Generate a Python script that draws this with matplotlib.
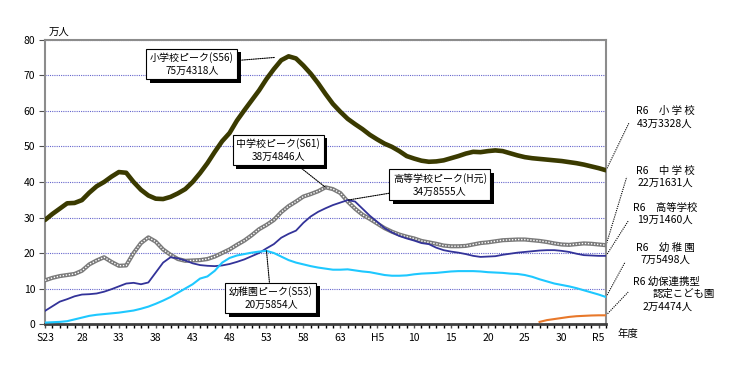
import matplotlib
matplotlib.use('Agg')
import matplotlib.pyplot as plt
import matplotlib.patheffects as pe

plt.rcParams['font.family'] = ['Noto Sans CJK JP', 'DejaVu Sans']

# 年度 (S23 = 1948 ... R6 = 2024), 単位: 万人
years = list(range(1948, 2025))

elementary = [29.3, 31.0, 32.5, 34.0, 34.1, 34.9, 37.0, 38.8, 40.0, 41.5,
              42.8, 42.6, 40.0, 37.8, 36.2, 35.3, 35.2, 35.8, 36.8, 38.0,
              40.0, 42.5, 45.3, 48.5, 51.5, 53.8, 57.3, 60.2, 63.0, 65.8,
              69.0, 71.8, 74.3, 75.4, 74.8, 72.8, 70.5, 67.8, 64.8, 62.0,
              59.8, 57.8, 56.3, 54.9, 53.3, 52.0, 50.8, 49.9, 48.7, 47.3,
              46.6, 46.0, 45.7, 45.8, 46.1, 46.7, 47.3, 48.0, 48.5, 48.4,
              48.7, 48.9, 48.7, 48.1, 47.5, 47.0, 46.7, 46.5, 46.3, 46.1,
              45.9, 45.6, 45.3, 44.9, 44.4, 43.9, 43.3]

junior = [12.3, 13.0, 13.5, 13.8, 14.1, 15.0, 16.8, 17.9, 18.8, 17.5,
          16.4, 16.5, 20.0, 22.8, 24.4, 23.2, 21.0, 19.5, 18.3, 17.8,
          17.9, 18.0, 18.3, 19.0, 20.0, 21.0, 22.3, 23.5, 25.0, 26.7,
          27.9, 29.3, 31.5, 33.2, 34.5, 35.9, 36.6, 37.4, 38.5, 38.0,
          36.9, 34.5, 32.5, 30.8, 29.6, 28.3, 27.0, 26.0, 25.2, 24.6,
          24.1, 23.4, 23.0, 22.6, 22.1, 21.9, 21.9, 22.0, 22.4, 22.8,
          23.0, 23.3, 23.6, 23.7, 23.8, 23.8, 23.6, 23.4, 23.1, 22.7,
          22.4, 22.3, 22.5, 22.7, 22.6, 22.4, 22.2]

high = [3.7, 5.0, 6.3, 7.0, 7.8, 8.3, 8.4, 8.6, 9.1, 9.8,
        10.6, 11.4, 11.6, 11.2, 11.7, 14.5, 17.3, 18.8, 18.5, 17.9,
        17.1, 16.6, 16.4, 16.3, 16.5, 16.9, 17.5, 18.2, 19.1, 20.0,
        21.3, 22.5, 24.3, 25.4, 26.3, 28.5, 30.3, 31.6, 32.6, 33.5,
        34.2, 34.9, 34.5, 32.5, 30.5, 28.8, 27.0, 25.8, 24.8, 24.1,
        23.5, 22.8, 22.5, 21.5, 20.8, 20.4, 20.1, 19.7, 19.2, 18.9,
        19.0, 19.1, 19.5, 19.8, 20.1, 20.3, 20.5, 20.7, 20.8, 20.8,
        20.6, 20.3, 19.8, 19.4, 19.3, 19.2, 19.2]

kinder = [0.4, 0.5, 0.6, 0.8, 1.3, 1.8, 2.3, 2.6, 2.8, 3.0,
          3.2, 3.5, 3.8, 4.3, 4.9, 5.7, 6.6, 7.6, 8.8, 10.0,
          11.2, 12.8, 13.4, 15.0, 17.3, 18.6, 19.3, 19.7, 20.1, 20.4,
          20.6, 20.0, 19.0, 18.0, 17.3, 16.8, 16.3, 15.9, 15.6, 15.3,
          15.3, 15.4, 15.1, 14.8, 14.6, 14.2, 13.8, 13.6, 13.6, 13.7,
          14.0, 14.2, 14.3, 14.4, 14.6, 14.8, 14.9, 14.9, 14.9, 14.8,
          14.6, 14.5, 14.4, 14.2, 14.1, 13.8, 13.3, 12.6, 12.0, 11.4,
          11.0, 10.6, 10.1, 9.5, 8.9, 8.3, 7.6]

kodomo_years = list(range(2015, 2025))
kodomo = [0.6, 1.1, 1.4, 1.7, 2.0, 2.2, 2.3, 2.4, 2.45, 2.45]

tick_years = list(range(1948, 2024, 5))
tick_labels = ['S23', '28', '33', '38', '43', '48', '53', '58', '63',
               'H5', '10', '15', '20', '25', '30', 'R5']

fig = plt.figure(figsize=(7.32, 3.72), dpi=100)
ax = fig.add_axes([0.0615, 0.129, 0.7664, 0.7635])

ax.set_xlim(1948, 2024)
ax.set_ylim(0, 80)
ax.set_yticks(range(0, 90, 10))
ax.set_xticks(tick_years)
ax.set_xticklabels(tick_labels)
ax.set_xticks(years, minor=True)
ax.tick_params(axis='both', labelsize=7.5, direction='out', color='#505050')
ax.tick_params(axis='x', which='both', length=3, width=1)
ax.tick_params(axis='y', length=4, pad=3)
ax.yaxis.grid(True, color='#6666cc', lw=0.8, ls=(0, (1, 1)))
ax.set_axisbelow(True)
for s in ['left', 'right', 'top']:
    ax.spines[s].set_color('#8c8c8c')
    ax.spines[s].set_linewidth(1.5)
ax.spines['bottom'].set_color('#404040')
ax.spines['bottom'].set_linewidth(2)

ax.plot(years, elementary, color='#3a3a00', lw=3.3, solid_capstyle='round', zorder=5)
ax.plot(years, junior, color='#7a7a7a', lw=3.0, zorder=3)
ax.plot(years, junior, color='white', lw=1.0, ls=(0, (1, 1.2)), zorder=3)
ax.plot(years, high, color='#333399', lw=1.3, zorder=4)
ax.plot(years, kinder, color='#1ec8ff', lw=1.5, zorder=4)
ax.plot(kodomo_years, kodomo, color='#e8782a', lw=1.5, zorder=4)


def peak_note(xs, ys, text, pos, shrink=0):
    i = ys.index(max(ys))
    t = ax.annotate(text, xy=(xs[i], ys[i]), xytext=pos, ha='center', va='center',
                    fontsize=7.2, linespacing=1.35, zorder=10,
                    bbox=dict(boxstyle='square,pad=0.35', fc='white', ec='black', lw=0.8),
                    arrowprops=dict(arrowstyle='-', ls=(0, (1, 1)), color='black', lw=0.8,
                                    shrinkA=0, shrinkB=shrink))
    t.get_bbox_patch().set_path_effects(
        [pe.SimplePatchShadow(offset=(2.5, -2.5), shadow_rgbFace='black', alpha=1), pe.Normal()])


peak_note(years, elementary, '小学校ピーク(S56)\n75万4318人', (1967.9, 73.2), shrink=10)
peak_note(years, junior, '中学校ピーク(S61)\n38万4846人', (1979.6, 49.0))
peak_note(years, high, '高等学校ピーク(H元)\n34万8555人', (2001.5, 39.2))
peak_note(years, kinder, '幼稚園ピーク(S53)\n20万5854人', (1978.6, 7.3))

# 右側のR6ラベル
end_labels = [
    (elementary[-1], 'R6　小 学 校\n43万3328人', (2027.1, 56.6), 58.2),
    (junior[-1], 'R6　中 学 校\n22万1631人', (2026.8, 41.4), 41.5),
    (high[-1], 'R6　高等学校\n19万1460人', (2027.0, 29.0), 31.0),
    (kinder[-1], 'R6　幼 稚 園\n7万5498人', (2026.6, 17.5), 19.7),
]
for val, txt, end, ty in end_labels:
    ax.plot([2024, end[0]], [val, end[1]], color='black', lw=0.8, ls=(0, (1, 1)), clip_on=False)
    ax.text(2032.0, ty, txt, ha='center', va='center', fontsize=7.5, linespacing=1.25,
            clip_on=False)

ax.plot([2024, 2027.0], [kodomo[-1], 9.0], color='black', lw=0.8, ls=(0, (1, 1)), clip_on=False)
ax.text(2027.65, 11.8, 'R6 幼保連携型', ha='left', va='center', fontsize=7.5, clip_on=False)
ax.text(2030.36, 8.5, '認定こども園', ha='left', va='center', fontsize=7.5, clip_on=False)
ax.text(2029.0, 4.8, '2万4474人', ha='left', va='center', fontsize=7.5, clip_on=False)

fig.text(59 / 732, 1 - 32 / 372, '万人', ha='center', va='center', fontsize=7.5)
fig.text(628 / 732, 1 - 334 / 372, '年度', ha='center', va='center', fontsize=7.5)

fig.savefig('out.png', dpi=100)
